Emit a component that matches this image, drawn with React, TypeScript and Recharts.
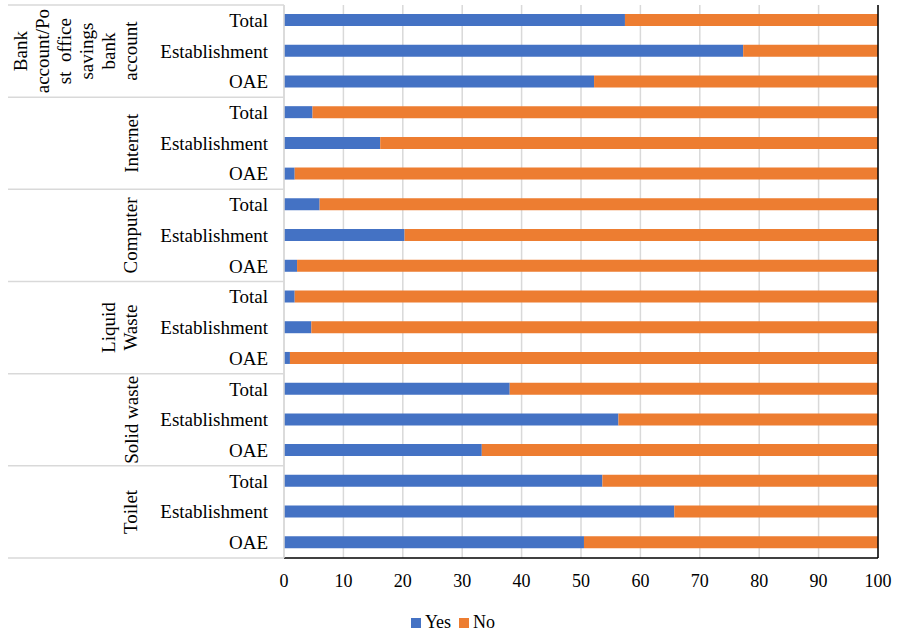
import React from 'react'
import {
  BarChart,
  Bar,
  XAxis,
  YAxis,
  CartesianGrid,
  Legend,
  ReferenceLine,
} from 'recharts'

// groups, top to bottom; each label is split into the lines as they wrap in the picture
const groupLines = [
  ['Bank', 'account/Po', 'st  office', 'savings', 'bank', 'account'],
  ['Internet'],
  ['Computer'],
  ['Liquid', 'Waste'],
  ['Solid waste'],
  ['Toilet'],
]
const subCategories = ['Total', 'Establishment', 'OAE']

// % yes / % no for each row (group x subCategory), top to bottom
const yesValues = [
  57.4, 77.3, 52.2,
  4.8, 16.2, 1.8,
  6.0, 20.3, 2.2,
  1.8, 4.6, 1.0,
  38.0, 56.3, 33.3,
  53.6, 65.7, 50.5,
]
const noValues = [
  42.6, 22.7, 47.8,
  95.2, 83.8, 98.2,
  94.0, 79.7, 97.8,
  98.2, 95.4, 99.0,
  62.0, 43.7, 66.7,
  46.4, 34.3, 49.5,
]
const xTicks = [0, 10, 20, 30, 40, 50, 60, 70, 80, 90, 100]

const W = 897
const H = 632
const M = { top: 5, right: 19, left: 0, bottom: 0 }
const Y_AXIS_W = 284
const X_AXIS_H = 54
const LEGEND_H = 20
const PLOT_H = H - M.top - M.bottom - X_AXIS_H - LEGEND_H
const STEP = PLOT_H / (groupLines.length * subCategories.length)
const FONT = '"Liberation Serif", "Times New Roman", serif'

const data = yesValues.map((yes, i) => ({
  key: `r${i}`,
  sub: subCategories[i % 3],
  yes,
  no: noValues[i],
}))

const CategoryTick = ({ x, y, index }: any) => {
  const gi = Math.floor(index / 3)
  const lines = groupLines[gi]
  const row = index % 3
  return (
    <g>
      <text x={x - 8} y={y} textAnchor="end" dominantBaseline="central"
        fontFamily={FONT} fontSize={19} fill="#000">
        {subCategories[row]}
      </text>
      {row === 0 && (
        <line x1={8} x2={Y_AXIS_W} y1={y - STEP / 2} y2={y - STEP / 2} stroke="#d9d9d9" strokeWidth={1.5} />
      )}
      {index === data.length - 1 && (
        <line x1={8} x2={Y_AXIS_W} y1={y + STEP / 2} y2={y + STEP / 2} stroke="#d9d9d9" strokeWidth={1.5} />
      )}
      {row === 1 &&
        lines.map((ln, li) => {
          const cx = 131 - (lines.length - 1 - li) * 22
          return (
            <text key={li} x={cx} y={y} transform={`rotate(-90 ${cx} ${y})`}
              textAnchor="middle" dominantBaseline="central"
              fontFamily={FONT} fontSize={19} fill="#000" style={{ whiteSpace: 'pre' }}>
              {ln}
            </text>
          )
        })}
    </g>
  )
}

const LegendContent = () => (
  <div style={{ display: 'flex', justifyContent: 'center', fontFamily: FONT, fontSize: 18, color: '#000', paddingLeft: 36 }}>
    {[
      { name: 'Yes', color: '#4472C4' },
      { name: 'No', color: '#ED7D31' },
    ].map(it => (
      <span key={it.name} style={{ display: 'flex', alignItems: 'center', marginRight: 8 }}>
        <span style={{ width: 10, height: 10, background: it.color, display: 'inline-block', marginRight: 4 }} />
        {it.name}
      </span>
    ))}
  </div>
)

export default function App() {
  return (
    <div style={{ position: 'absolute', left: 0, top: 0, width: W, height: H, background: '#fff' }}>
      <BarChart width={W} height={H} data={data} layout="vertical" margin={M} barSize={12}>
        <CartesianGrid horizontal={false} stroke="#d9d9d9" strokeWidth={1.5} />
        <XAxis
          type="number"
          domain={[0, 100]}
          ticks={xTicks}
          height={X_AXIS_H}
          axisLine={{ stroke: '#000', strokeWidth: 1.5 }}
          tickLine={false}
          tickMargin={10}
          tick={{ fill: '#000', fontSize: 18, fontFamily: FONT }}
        />
        <XAxis
          xAxisId="top"
          orientation="top"
          type="number"
          domain={[0, 100]}
          height={0}
          tick={false}
          tickLine={false}
          axisLine={{ stroke: '#000', strokeWidth: 1.5 }}
        />
        <YAxis
          type="category"
          dataKey="key"
          width={Y_AXIS_W}
          axisLine={{ stroke: '#d9d9d9', strokeWidth: 1.5 }}
          tickLine={false}
          interval={0}
          tick={<CategoryTick />}
        />
        <ReferenceLine x={100} stroke="#000" strokeWidth={1.5} />
        <Legend verticalAlign="bottom" height={LEGEND_H} content={<LegendContent />} />
        <Bar dataKey="yes" name="Yes" stackId="a" fill="#4472C4" isAnimationActive={false} />
        <Bar dataKey="no" name="No" stackId="a" fill="#ED7D31" isAnimationActive={false} />
      </BarChart>
    </div>
  )
}
